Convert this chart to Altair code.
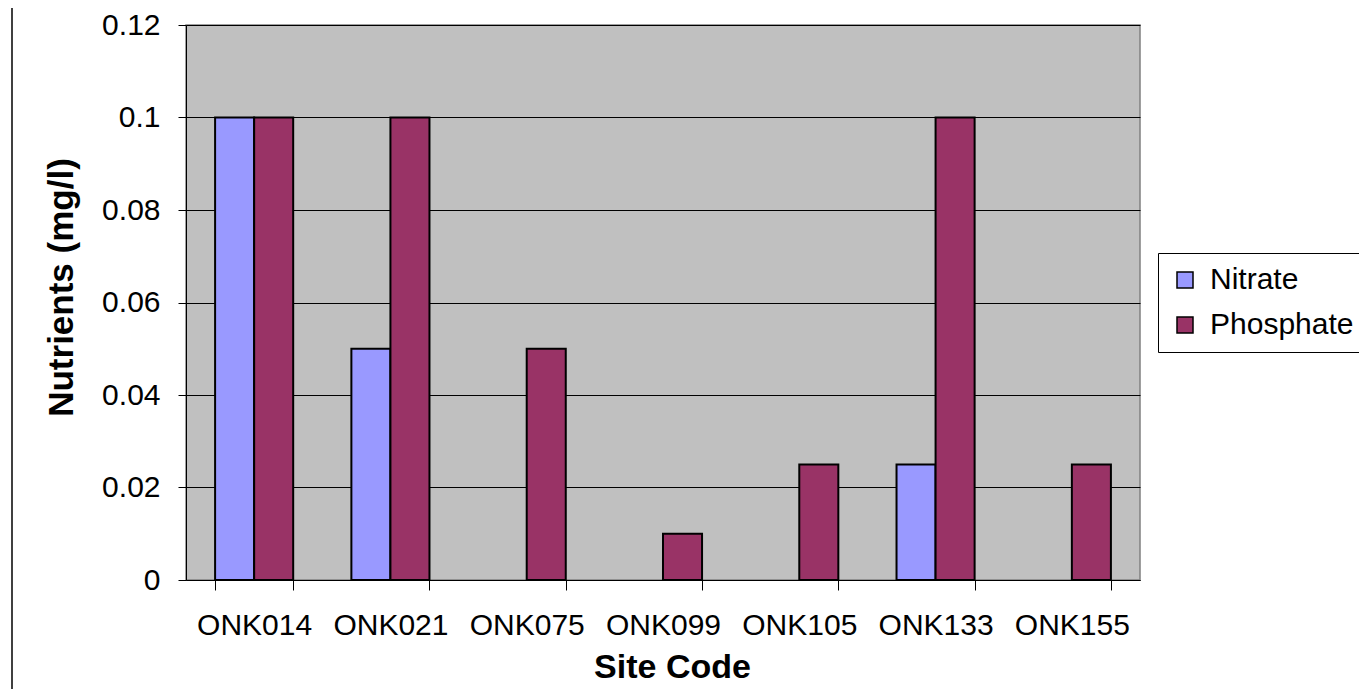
import altair as alt
import pandas as pd

sites = ["ONK014", "ONK021", "ONK075", "ONK099", "ONK105", "ONK133", "ONK155"]
nitrate = [0.1, 0.05, None, None, None, 0.025, None]
phosphate = [0.1, 0.1, 0.05, 0.01, 0.025, 0.1, 0.025]
series = ["Nitrate", "Phosphate"]
colors = ["#9999FF", "#993366"]
y_ticks = [0, 0.02, 0.04, 0.06, 0.08, 0.1, 0.12]

rows = []
for s, n, p in zip(sites, nitrate, phosphate):
    if n is not None:
        rows.append({"site": s, "series": "Nitrate", "value": n})
    if p is not None:
        rows.append({"site": s, "series": "Phosphate", "value": p})
df = pd.DataFrame(rows)

FONT = "Liberation Sans"
W, H = 954, 555

bars = alt.Chart(df).mark_bar(stroke="black", strokeWidth=2).encode(
    x=alt.X("site:N", sort=sites,
            scale=alt.Scale(domain=sites, paddingInner=0.427, paddingOuter=0.2135),
            axis=alt.Axis(title="Site Code", labelAngle=0, tickBand="extent",
                          tickSize=10, tickColor="#000000", domainColor="#000000",
                          labelFontSize=30, labelPadding=20, titleFontSize=34,
                          titleFontWeight="bold", titlePadding=10, titleX=486,
                          labelFont=FONT, titleFont=FONT, labelColor="black",
                          titleColor="black", grid=False)),
    xOffset=alt.XOffset("series:N", scale=alt.Scale(domain=series, paddingInner=0, paddingOuter=0)),
    y=alt.Y("value:Q",
            scale=alt.Scale(domain=[0, 0.12], nice=False),
            axis=alt.Axis(title="Nutrients (mg/l)", values=y_ticks,
                          labelExpr="datum.value == 0 ? '0' : toString(datum.value)",
                          tickSize=8, tickColor="#000000", domainColor="#000000",
                          gridColor="#000000", gridWidth=1, grid=True,
                          labelFontSize=30, labelPadding=18, titleFontSize=35,
                          titleFontWeight="bold", titlePadding=22, titleY=262,
                          labelFont=FONT, titleFont=FONT, labelColor="black",
                          titleColor="black")),
    color=alt.Color("series:N", scale=alt.Scale(domain=series, range=colors),
                    legend=alt.Legend(title=None, orient="none", legendX=972, legendY=228,
                                      strokeColor="#000000", fillColor="white", padding=12,
                                      symbolType="square", symbolSize=256,
                                      symbolStrokeColor="black", symbolStrokeWidth=1.5,
                                      labelFontSize=30, labelFont=FONT, labelColor="black",
                                      rowPadding=15, labelOffset=10)),
)

border = alt.Chart(pd.DataFrame({"k": [0]})).mark_rule(color="#404040", strokeWidth=2).encode(
    x=alt.value(-174), y=alt.value(-17), y2=alt.value(664)
)

chart = alt.layer(bars, border).properties(
    width=W, height=H,
    autosize=alt.AutoSizeParams(type="none"),
    padding={"left": 178, "top": 17, "right": 219, "bottom": 109},
    background="white",
).configure_view(fill="#C0C0C0", stroke="#808080", strokeWidth=1.5)

chart.save("out.html", embed_options={"renderer": "svg", "actions": False})
